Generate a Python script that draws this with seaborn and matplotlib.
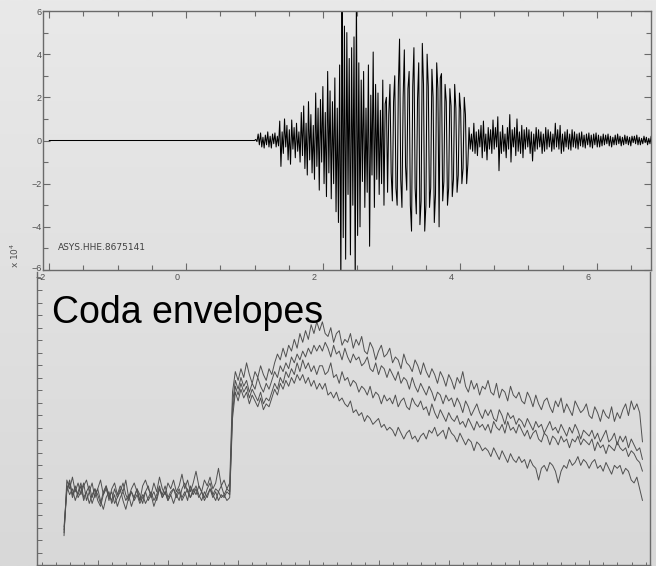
import numpy as np
import pandas as pd
import matplotlib
matplotlib.use("Agg")
import matplotlib.pyplot as plt
import matplotlib.transforms as mtransforms
from matplotlib.colors import LinearSegmentedColormap
from matplotlib.ticker import MultipleLocator
import seaborn as sns

# ---- station trace (counts, x 10^4) ----
station_label = "ASYS.HHE.8675141"
pre_event_time = [-2.0, 1.0]
pre_event_counts = [0.0, 0.0]
trace_start = 1.0
trace_step = 0.0175
trace_counts = [
    # 1.00 s: quiet, first arrival
    0.0, 0.05, -0.05,
    0.3, -0.2, 0.35, -0.3, 0.15, -0.35, 0.25, -0.2, 0.4, -0.3,
    0.2, -0.35, 0.3, -0.15, 0.35, -0.3, 0.2, -0.25,
    # 1.35 s
    0.9, -1.2, 0.4, -0.6, 1.0, -0.3, 0.7, -0.9, 0.5, -1.1,
    0.95, -0.4, 0.6, -0.8, 0.8, -0.5, 0.4, -1.0,
    # 1.66 s
    1.3, -0.7, 1.6, -1.3, 0.8, -1.6, 1.8, -0.9, 1.2, -1.5, 0.7,
    -1.8, 2.2, -1.2, 1.5, -2.3, 1.9, -1.0, 2.5, -2.0, 1.3, -2.6,
    3.2, -1.5, 2.3, -2.7, 1.8, -2.0, 2.9, -3.3, 1.5, -3.8, 3.5,
    # 2.26 s: strongest phase
    -6.8, 6.8, -4.5, 5.3, -5.5, 5.0, -2.5, 3.8, -5.3, 4.3,
    -3.0, 4.8, -6.8, 6.8, -4.4, 3.6,
    -4.0, 2.8, -1.9, 3.2, -3.1, 1.5, -2.4, 3.5, -4.9, 2.1,
    -1.6, 4.1, -3.1, 2.6, -1.8, 2.2, -2.5, 1.4, -2.0, 2.8, -3.0, 1.7,
    # 2.93 s: second wave packet
    2.0, -2.4, 1.2, 2.6, -1.5, -2.8, 1.8, 3.0, -2.2, -3.0,
    2.5, 4.7, -1.8, -3.1, 2.0, 4.2, -1.2, -2.3, 2.4, 3.2,
    -3.0, -4.2, 2.5, 4.3, -2.2, -3.4, 1.9, 3.6, -3.9, -2.8,
    4.5, 2.6, -4.2, -3.0, 4.0, 2.5, -3.1, -2.2, 3.3, 2.0,
    -3.8, -2.5, 3.6, 2.4, -4.0,
    2.9, 3.1, -2.8, -1.9, 2.6, 1.8, -3.0, -2.2, 2.4, 1.6,
    -2.6, -1.8, 2.6, 1.5, -2.4, -1.6, 2.2, 1.4, -2.0, -1.3,
    2.0, 1.2, -2.0, -1.1,
    # 4.13 s: coda
    0.6, -0.4, 0.3, -0.5, 0.8, -0.6, 0.4, -0.7, 0.5, -0.3,
    0.7, -0.8, 0.9, -0.5, 0.3, -0.9, 0.6, -0.4, 0.5, -0.6,
    0.95, -0.4, 0.6, -0.3, 1.1, -1.4, 0.4, -0.6, 0.7, -0.5,
    0.3, -0.8, 0.6, -0.4, 1.2, -1.0, 0.5, -0.3, 0.6, -0.7,
    1.0, -0.5, 0.4, -0.6, 0.7, -0.8, 0.5, -0.4, 0.6, -0.3,
    # 5.00 s
    0.5, -0.6, 0.4, -0.95, 0.3, -0.5, 0.6, -0.4, 0.5, -0.3,
    0.4, -0.6, 0.3, -0.5, 0.6, -0.4, 0.5, -0.3, 0.4, -0.5,
    0.3, -0.4, 0.8, -0.3, 0.5, -0.4, 0.7, -0.6, 0.3, -0.5,
    0.4, -0.3, 0.5, -0.4, 0.3, -0.45, 0.5, -0.3, 0.4, -0.35,
    0.3, -0.4, 0.35, -0.25, 0.4, -0.3, 0.25, -0.35, 0.3, -0.2,
    0.35, -0.3, 0.25, -0.35, 0.3, -0.2, 0.35, -0.3,
    # 6.02 s
    0.25, -0.3, 0.2, -0.25, 0.3, -0.2, 0.25, -0.15, 0.3, -0.25,
    0.2, -0.3, 0.15, -0.2, 0.25, -0.2, 0.3, -0.15, 0.2, -0.25,
    0.15, -0.2, 0.25, -0.15, 0.2, -0.2, 0.15, -0.25, 0.2, -0.1,
    0.2, -0.15, 0.25, -0.2, 0.15, -0.2, 0.1, -0.15, 0.2, -0.1,
    0.15, -0.2, 0.1, -0.15, 0.2, -0.1, 0.15, -0.1, 0.1, -0.15,
    0.1, -0.1, 0.15, -0.05,
]
time_ticks = [-2, 0, 2, 4, 6]
count_ticks = [-6, -4, -2, 0, 2, 4, 6]

# ---- coda envelopes (four stations, log amplitude) ----
envelope_start = 0.516
envelope_step = 0.04
envelope_a = [
    1.0,
    2.9, 2.6, 3.0, 2.5, 2.8, 2.4, 2.7, 2.9, 2.5, 2.8,
    2.3, 2.6, 2.9, 2.4, 2.7, 2.2, 2.6, 2.8, 2.4, 2.7,
    2.5, 2.9, 2.3, 2.6, 2.8, 2.5, 2.2, 2.7, 2.9, 2.6,
    2.4, 2.8, 2.5, 3.0, 2.6, 2.4, 2.8, 2.6, 2.9, 2.5,
    2.7, 3.1, 2.6, 2.9, 2.5, 2.8, 3.2, 2.7, 2.5, 2.9,
    2.7, 3.0, 2.6, 2.8, 3.3, 2.7, 2.9, 2.6, 2.8,
    5.9, 6.6,
    6.3, 6.7, 6.4, 6.9, 6.5, 6.2, 6.6, 6.4, 6.8, 6.5,
    6.3, 6.7, 6.5, 6.9, 7.2, 7.0, 7.4, 7.1, 7.5, 7.3,
    7.7, 7.4, 7.9, 7.6, 8.0, 7.7, 8.2, 7.9, 8.3, 8.0,
    8.3, 7.9, 7.8, 8.1, 7.6, 7.9, 8.0, 7.5, 7.7, 7.6, 7.9, 7.4,
    7.7, 7.5, 7.8, 7.3, 7.2, 7.6, 7.4, 7.0, 7.3, 7.5, 7.1, 7.2,
    7.4, 6.9, 7.1, 7.0, 6.7, 7.2, 6.9, 6.8, 6.6, 7.0, 6.8, 6.5,
    6.9, 6.6, 6.4, 6.7, 6.5, 6.2, 6.6, 6.4, 6.1, 6.5, 6.3,
    6.0, 6.4, 6.2, 6.6, 6.1, 5.9, 6.3, 6.0, 6.2, 5.8, 6.1, 6.0,
    6.3, 5.9, 5.8, 6.2, 5.7, 6.0, 5.9, 5.6, 6.1, 5.8, 5.7, 5.9,
    5.6, 5.5, 5.9, 5.7, 5.4, 5.8, 5.5, 5.3, 5.6, 5.7, 5.4, 5.2,
    5.6, 5.4, 5.7, 5.2, 5.5, 5.3, 5.1, 5.6, 5.4, 5.2, 5.3, 5.5,
    5.1, 5.0, 5.4, 5.2, 4.9, 5.3, 5.1, 5.0, 5.4, 4.9, 5.2, 5.0,
    5.3, 5.5, 5.1, 5.6, 5.3, 5.5, 5.2,
    4.2,
]
envelope_b = [
    1.2,
    2.5, 2.8, 2.3, 2.6, 2.4, 2.7, 2.2, 2.5, 2.7, 2.3,
    2.6, 2.4, 2.1, 2.5, 2.7, 2.4, 2.2, 2.6, 2.3, 2.5,
    2.8, 2.4, 2.2, 2.5, 2.3, 2.6, 2.4, 2.1, 2.5, 2.7,
    2.3, 2.5, 2.2, 2.6, 2.4, 2.7, 2.3, 2.5, 2.6, 2.4,
    2.2, 2.6, 2.8, 2.5, 2.3, 2.6, 2.4, 2.7, 2.5, 2.3,
    2.6, 2.8, 2.4, 2.6, 2.5, 2.7, 2.4, 2.6, 2.5,
    5.5, 6.3,
    6.0, 6.4, 6.1, 6.3, 5.9, 6.2, 6.0, 6.4, 6.1, 5.9,
    6.2, 6.0, 6.3, 6.6, 6.4, 6.8, 6.6, 6.9, 6.7, 7.1,
    6.9, 7.2, 7.0, 7.3, 7.1, 7.4, 7.2, 7.5, 7.3, 7.5,
    7.3, 7.6, 7.4, 7.1, 7.5, 7.2, 7.3, 7.0, 7.4, 7.1, 6.9, 7.2,
    7.0, 7.1, 6.8, 6.9, 7.1, 6.7, 6.6, 6.9, 6.5, 6.8, 6.7, 6.4,
    6.7, 6.5, 6.3, 6.6, 6.2, 6.4, 6.3, 6.0, 6.4, 6.1, 5.9, 6.2,
    6.0, 5.8, 6.1, 5.9, 5.6, 5.9, 5.8, 5.5, 5.8, 5.6, 5.7,
    5.4, 5.7, 5.5, 5.2, 5.6, 5.4, 5.1, 5.3, 5.5, 5.2, 5.0, 5.3,
    5.1, 5.3, 5.0, 4.9, 5.3, 5.1, 4.8, 5.2, 5.0, 5.1, 4.8, 5.0,
    4.9, 4.7, 5.0, 4.8, 4.6, 4.9, 4.7, 4.8, 4.5, 4.7, 4.9, 4.6,
    4.7, 4.5, 4.8, 4.6, 4.4, 4.7, 4.5, 4.8, 4.6, 4.3, 4.6, 4.5,
    4.4, 4.6, 4.3, 4.5, 4.2, 4.4, 4.6, 4.2, 4.3, 4.5, 4.1, 4.4,
    4.2, 4.4, 4.0, 4.3, 4.1, 3.9, 4.0,
    3.6,
]
envelope_c = [
    1.1,
    2.7, 2.4, 2.6, 2.2, 2.5, 2.8, 2.3, 2.5, 2.1, 2.4,
    2.6, 2.2, 2.0, 2.4, 2.6, 2.3, 2.5, 2.1, 2.3, 2.6,
    2.2, 1.9, 2.3, 2.5, 2.2, 2.4, 2.1, 2.3, 2.5, 2.2,
    2.4, 2.0, 2.3, 2.6, 2.3, 2.5, 2.2, 2.4, 2.1, 2.4,
    2.6, 2.3, 2.5, 2.2, 2.7, 2.4, 2.6, 2.3, 2.5, 2.2,
    2.4, 2.6, 2.3, 2.5, 2.2, 2.4, 2.3, 2.5, 2.4,
    5.2, 6.1,
    5.8, 6.2, 5.9, 6.1, 5.7, 6.0, 5.8, 5.6, 5.9, 5.5,
    5.7, 5.6, 5.9, 6.2, 6.0, 6.4, 6.2, 6.6, 6.4, 6.7,
    6.5, 6.9, 6.6, 7.0, 6.7, 6.9, 6.6, 6.8, 6.5, 6.8,
    6.8, 6.5, 6.6, 6.9, 6.4, 6.5, 6.2, 6.6, 6.3, 6.4, 6.1, 6.3,
    6.2, 5.9, 6.1, 6.0, 5.8, 6.1, 5.7, 5.9, 5.8, 5.5, 5.8, 5.6,
    5.7, 5.5, 5.8, 5.4, 5.6, 5.7, 5.4, 5.3, 5.7, 5.5, 5.4, 5.6,
    5.3, 5.4, 5.1, 5.5, 5.2, 5.0, 5.3, 5.1, 4.9, 5.2, 5.0,
    4.9, 5.1, 4.8, 4.9, 4.7, 5.0, 4.8, 4.6, 4.9, 4.7, 4.8, 4.6,
    4.8, 4.5, 4.9, 4.7, 4.6, 4.8, 4.5, 4.9, 4.6, 4.7, 4.5, 4.8,
    4.6, 4.4, 4.6, 4.3, 4.5, 4.6, 4.3, 4.2, 4.5, 4.4, 4.1, 4.4,
    4.3, 4.1, 4.4, 4.2, 4.3, 4.0, 4.3, 4.2, 4.4, 4.1, 4.3, 4.2,
    4.1, 4.3, 3.9, 4.2, 4.0, 4.1, 3.8, 4.1, 4.0, 3.9, 4.2, 4.0,
    3.9, 4.0, 3.7, 3.9, 3.8, 3.6, 3.5,
    3.2,
]
envelope_d = [
    1.3,
    2.6, 2.9, 2.4, 2.7, 2.3, 2.5, 2.8, 2.2, 2.5, 2.1,
    2.4, 2.6, 2.2, 1.9, 2.3, 2.5, 2.1, 2.4, 2.0, 2.3,
    2.5, 2.2, 2.4, 2.0, 2.3, 2.6, 2.2, 2.4, 2.1, 2.3,
    2.5, 2.2, 2.4, 2.7, 2.3, 2.5, 2.2, 2.4, 2.6, 2.3,
    2.5, 2.2, 2.4, 2.6, 2.3, 2.5, 2.7, 2.4, 2.2, 2.5,
    2.3, 2.6, 2.4, 2.2, 2.5, 2.3, 2.4, 2.2, 2.3,
    5.0, 5.9,
    5.6, 6.0, 5.7, 5.9, 5.5, 5.8, 5.6, 5.4, 5.7, 5.3,
    5.5, 5.4, 5.7, 6.0, 5.8, 6.2, 6.0, 6.3, 6.1, 6.4,
    6.2, 6.5, 6.3, 6.5, 6.2, 6.4, 6.1, 6.3, 6.0, 6.2,
    6.0, 6.2, 5.8, 5.9, 5.7, 5.9, 5.6, 5.7, 5.5, 5.4, 5.6, 5.2,
    5.3, 5.1, 5.2, 4.9, 5.1, 5.0, 4.8, 4.9, 5.0, 4.7, 4.8, 4.6,
    4.7, 4.6, 4.4, 4.7, 4.5, 4.3, 4.5, 4.6, 4.3, 4.4, 4.2, 4.4,
    4.5, 4.3, 4.6, 4.5, 4.7, 4.4, 4.5, 4.6, 4.3, 4.7, 4.5,
    4.4, 4.2, 4.5, 4.3, 4.1, 4.3, 4.2, 3.9, 4.2, 4.1, 3.9, 4.0,
    3.9, 3.7, 4.0, 3.8, 3.6, 3.9, 3.7, 3.5, 3.8, 3.6, 3.5, 3.7,
    3.5, 3.6, 3.3, 3.6, 3.4, 3.3, 2.9, 3.3, 3.4, 3.2, 3.5, 3.4,
    3.2, 2.8, 3.2, 3.4, 3.3, 3.6, 3.4, 3.5, 3.7, 3.4, 3.6, 3.5,
    3.3, 3.5, 3.6, 3.3, 3.4, 3.2, 3.5, 3.3, 3.1, 3.4, 3.3, 3.4,
    3.1, 3.3, 3.2, 2.9, 2.8, 3.0, 2.6,
    2.2,
]
envelope_names = ["A", "B", "C", "D"]

# ---- tables for seaborn ----
trace_time = np.concatenate([
    pre_event_time,
    trace_start + trace_step * np.arange(1, len(trace_counts)),
])
trace_values = np.concatenate([pre_event_counts, trace_counts[1:]])
trace_df = pd.DataFrame({"time": trace_time, "counts": trace_values})

frames = []
for name, values in zip(envelope_names,
                        [envelope_a, envelope_b, envelope_c, envelope_d]):
    frames.append(pd.DataFrame({
        "time": envelope_start + envelope_step * np.arange(len(values)),
        "amplitude": values,
        "station": name,
    }))
envelope_df = pd.concat(frames, ignore_index=True)

# ---- figure ----
sns.set_theme(style="ticks")
plt.rcParams["font.family"] = ["Liberation Sans", "DejaVu Sans"]

W, H = 656, 566
fig = plt.figure(figsize=(W / 100, H / 100), dpi=100)

# soft grey backdrop, slightly darker towards the bottom
bg = fig.add_axes([0, 0, 1, 1], zorder=-10)
bg.imshow(np.linspace(0, 1, 256)[:, None], aspect="auto", extent=[0, 1, 0, 1],
          cmap=LinearSegmentedColormap.from_list("bg", ["#e9e9e9", "#d8d8d8"]))
bg.axis("off")

axis_grey = "#6a6a6a"
label_grey = "#505050"

# upper panel: raw trace
ax1 = fig.add_axes([43 / W, 1 - 270 / H, 608 / W, 259 / H])
ax1.set_facecolor("none")
sns.lineplot(data=trace_df, x="time", y="counts", ax=ax1, estimator=None,
             sort=False, color="black", linewidth=0.75, legend=False)
ax1.set_xlim(-2.09, 6.79)
ax1.set_ylim(-6, 6)
ax1.set_xticks(time_ticks)
ax1.set_yticks(count_ticks)
ax1.xaxis.set_minor_locator(MultipleLocator(0.5))
ax1.yaxis.set_minor_locator(MultipleLocator(1))
ax1.set_xlabel("")
ax1.set_ylabel("")
ax1.tick_params(which="both", direction="in", top=True, right=True,
                color=axis_grey, width=0.8, labelsize=6.5,
                labelcolor=label_grey, pad=2)
ax1.tick_params(which="major", length=5)
ax1.tick_params(which="minor", length=3.5)
ax1.tick_params(axis="y", pad=1)
for s in ax1.spines.values():
    s.set_color(axis_grey)
    s.set_linewidth(1.0)
# IDL-style labels: time labels sit a little left of their ticks
shift = mtransforms.ScaledTranslation(-9 / 100, 0, fig.dpi_scale_trans)
for lab in ax1.get_xticklabels():
    lab.set_transform(lab.get_transform() + shift)
lift = mtransforms.ScaledTranslation(0, 3 / 100, fig.dpi_scale_trans)
bottom_label = ax1.get_yticklabels()[0]
bottom_label.set_transform(bottom_label.get_transform() + lift)
ax1.text(-1.87, -4.94, station_label, fontsize=6.5, color="#404040",
         family="DejaVu Sans", va="center", ha="left")
fig.text(15 / W, 1 - 255 / H, "x 10$^4$", rotation=90, fontsize=6.5,
         color=label_grey, ha="center", va="center", family="DejaVu Sans")

# lower panel: coda envelopes
ax2 = fig.add_axes([37 / W, 1 / H, 613 / W, 293 / H])
ax2.set_facecolor("none")
sns.lineplot(data=envelope_df, x="time", y="amplitude", units="station",
             estimator=None, sort=False, ax=ax2, color="#505050",
             linewidth=0.7, legend=False)
ax2.set_xlim(0.131, 8.863)
ax2.set_ylim(0, 10)
ax2.xaxis.set_major_locator(MultipleLocator(1))
ax2.xaxis.set_minor_locator(MultipleLocator(0.2))
ax2.yaxis.set_major_locator(MultipleLocator(0.4266))
ax2.set_xlabel("")
ax2.set_ylabel("")
ax2.tick_params(which="both", direction="in", labelbottom=False,
                labelleft=False, color=axis_grey, width=0.7)
ax2.tick_params(which="major", length=3.5)
ax2.tick_params(which="minor", length=2.5)
ax2.spines["top"].set_visible(False)
for s in ax2.spines.values():
    s.set_color(axis_grey)
    s.set_linewidth(1.0)

fig.text(52 / W, 1 - 323 / H, "Coda envelopes", fontsize=27, color="black",
         ha="left", va="baseline")

fig.savefig("out.png", dpi=100)
